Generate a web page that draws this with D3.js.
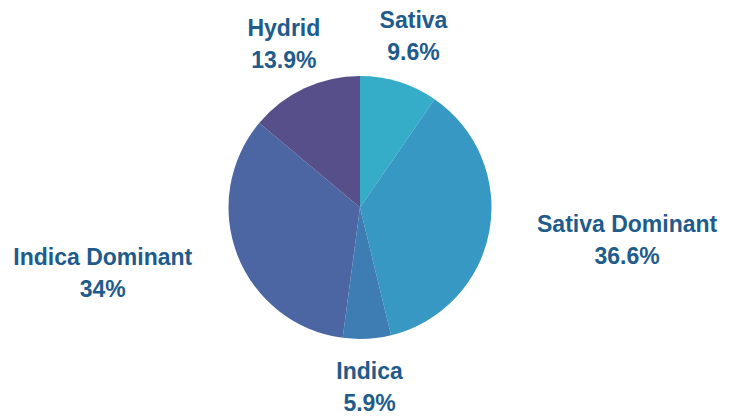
<!DOCTYPE html>
<html>
<head>
<meta charset="utf-8">
<script src="https://cdn.jsdelivr.net/npm/d3@7"></script>
<style>
  body { margin: 0; background: #fff; }
  .label text { font-family: "Liberation Sans", Arial, sans-serif; font-weight: bold; font-size: 23px; fill: #215b8c; }
</style>
</head>
<body>
<div id="chart"></div>
<script>
// data
const categories = ['Sativa', 'Sativa Dominant', 'Indica', 'Indica Dominant', 'Hydrid'];
const shares = [9.6, 36.6, 5.9, 34, 13.9];
const sliceColors = ['#35adc9', '#3698c3', '#3e7db4', '#4b66a3', '#564f8a'];

const width = 738, height = 416;
const cx = 360, cy = 207.5, radius = 131.5, labelRadius = 180;

const svg = d3.select('#chart').append('svg')
    .attr('width', width)
    .attr('height', height);

const g = svg.append('g')
    .attr('transform', `translate(${cx},${cy})`);

const displayData = categories.map((c, i) => ({name: c, value: shares[i], color: sliceColors[i]}));

const pie = d3.pie().value(d => d.value).sort(null);
const arc = d3.arc().innerRadius(0).outerRadius(radius);

const arcs = pie(displayData);

g.selectAll('.arc')
    .data(arcs)
    .enter()
    .append('path')
    .attr('class', 'arc')
    .attr('d', arc)
    .style('fill', d => d.data.color);

// labels placed outside each slice, as a centered two-line block
const labels = g.selectAll('.label')
    .data(arcs)
    .enter()
    .append('g')
    .attr('class', 'label')
    .attr('transform', d => {
        let a = (d.startAngle + d.endAngle) / 2;
        return `translate(${labelRadius * Math.sin(a)},${-labelRadius * Math.cos(a)})`;
    });

labels.each(function(d) {
    let a = (d.startAngle + d.endAngle) / 2;
    let s = Math.sin(a);
    let t = d3.select(this);
    let t1 = t.append('text')
        .attr('text-anchor', 'middle')
        .attr('dominant-baseline', 'central')
        .attr('y', -16)
        .text(d.data.name);
    let t2 = t.append('text')
        .attr('text-anchor', 'middle')
        .attr('dominant-baseline', 'central')
        .attr('y', 16)
        .text(d.data.value + '%');
    let w = Math.max(t1.node().getComputedTextLength(), t2.node().getComputedTextLength());
    let dx = s > 0.7 ? w / 2 : (s < -0.7 ? -w / 2 : 0);
    t1.attr('x', dx);
    t2.attr('x', dx);
});
</script>
</body>
</html>
